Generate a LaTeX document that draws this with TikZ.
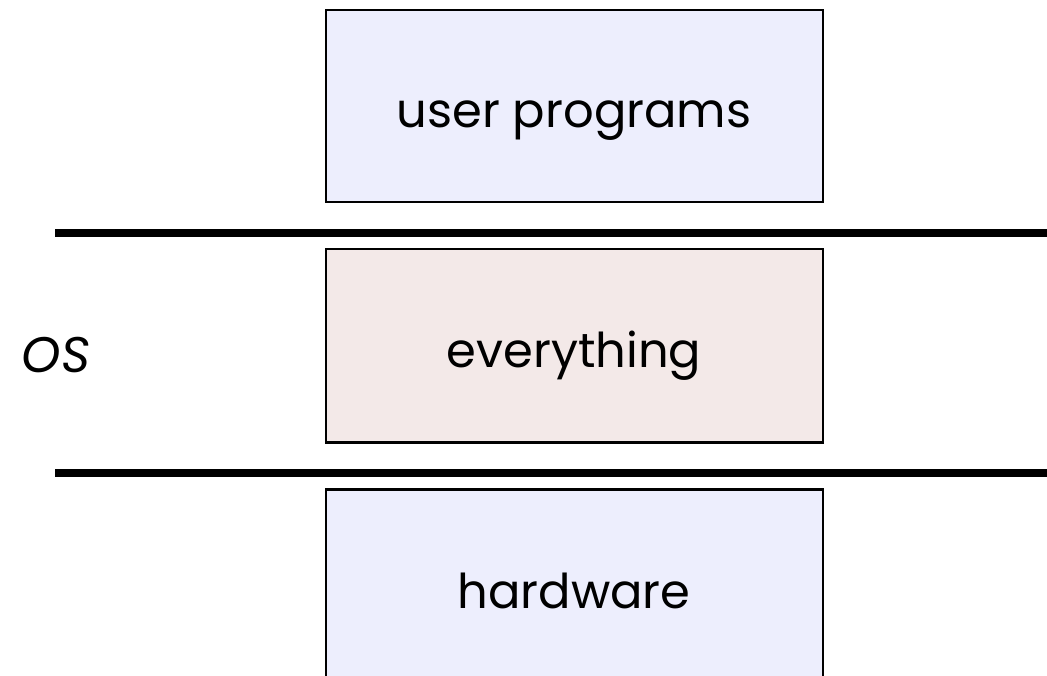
\documentclass[tikz,border=0pt]{standalone}
\usepackage{fontspec}
\setmainfont{Poppins}
\begin{document}
\begin{tikzpicture}[x=1pt,y=-1pt,
  layerbox/.style={draw=black,line width=2.5pt,minimum width=497pt,anchor=north,inner sep=0pt},
  userfill/.style={fill=userblue},
  osfill/.style={fill=ospink},
  divider/.style={line width=8pt},
  lbl/.style={anchor=base,inner sep=0pt,font=\fontsize{48}{54}\selectfont}]
\definecolor{userblue}{HTML}{EDEEFD}
\definecolor{ospink}{HTML}{F3E9E8}
\useasboundingbox (0,0) rectangle (1047,676);
% layer boxes
\node[layerbox,userfill,minimum height=192pt] (user) at (574.5,9) {};
\node[layerbox,osfill,minimum height=193pt] (kernel) at (574.5,248) {};
\begin{scope}
  \clip (0,0) rectangle (1047,676);
  \node[layerbox,userfill,minimum height=220pt] (hw) at (574.5,488) {};
\end{scope}
% labels
\node[lbl] (tuser) at (574,128) {user programs};
\node[lbl] (tkern) at (574,367) {everything};
\node[lbl] (thw) at (574,608) {hardware};
\node[lbl,font=\fontsize{50}{56}\selectfont\itshape] (os) at (56,373) {OS};
% protection boundaries
\coordinate (b1l) at (55,233);
\coordinate (b1r) at (1047,233);
\coordinate (b2l) at (55,473);
\coordinate (b2r) at (1047,473);
\draw[divider] (b1l) -- (b1r);
\draw[divider] (b2l) -- (b2r);
\end{tikzpicture}
\end{document}
